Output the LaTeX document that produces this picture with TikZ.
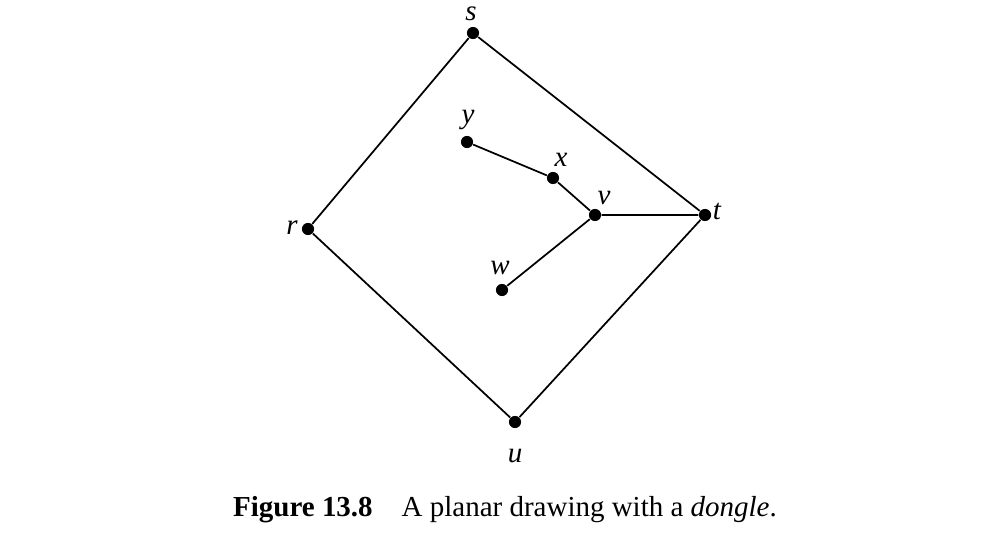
\documentclass[tikz,border=0pt]{standalone}
\usepackage{fontspec}
\setmainfont{Liberation Serif}
\begin{document}
\begin{tikzpicture}[x=0.345pt,y=-0.345pt,
  dot/.style={circle,fill,inner sep=0pt,minimum size=4.2pt},
  lbl/.style={anchor=base,inner sep=0pt,font=\itshape},
  edge/.style={line width=0.6pt}]
 \useasboundingbox (0,0) rectangle (1006,556);
 % outer cycle
 \node[dot] (s) at (473,33) {};
 \node[dot] (t) at (705,215) {};
 \node[dot] (u) at (515,422) {};
 \node[dot] (r) at (308,229) {};
 % the dongle
 \node[dot] (y) at (467,142) {};
 \node[dot] (x) at (553,178) {};
 \node[dot] (v) at (595,215) {};
 \node[dot] (w) at (502,290) {};
 %
 \node[lbl] (ls) at (471,21) {s};
 \node[lbl] (lt) at (717,220) {t};
 \node[lbl] (lu) at (515,462) {u};
 \node[lbl] (lr) at (292,235) {r};
 \node[lbl] (ly) at (468,124) {y};
 \node[lbl] (lx) at (561,167) {x};
 \node[lbl] (lv) at (604,205) {v};
 \node[lbl] (lw) at (500,275) {w};
 %
 \draw[edge] (s) -- (t) -- (u) -- (r) -- (s);
 \draw[edge] (y) -- (x) -- (v) -- (t);
 \draw[edge] (v) -- (w);
 %
 \node[anchor=base,inner sep=0pt] (cap) at (505,516)
   {\textbf{Figure 13.8}\quad A planar drawing with a \textit{dongle}.};
\end{tikzpicture}
\end{document}
